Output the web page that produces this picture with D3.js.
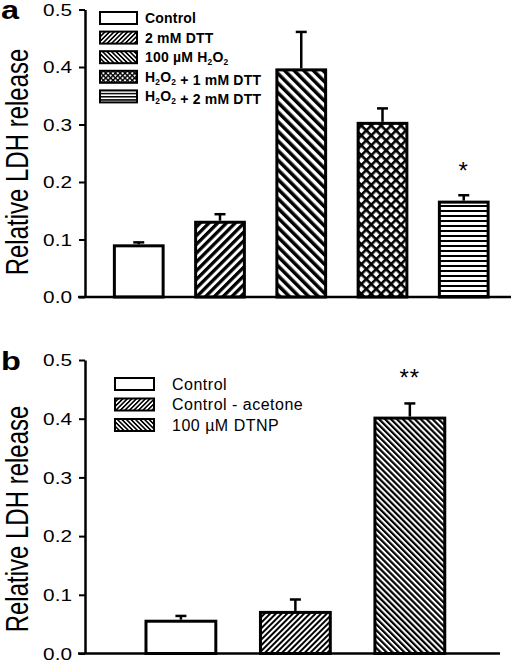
<!DOCTYPE html>
<html><head><meta charset="utf-8">
<script src="https://cdn.jsdelivr.net/npm/d3@7"></script>
<style>body{margin:0;background:#fff}svg{display:block}text{font-family:"Liberation Sans",Arial,sans-serif}</style>
</head><body>
<script>
const catsA = ["Control", "2 mM DTT", "100 µM H2O2", "H2O2 + 1 mM DTT", "H2O2 + 2 mM DTT"];
const valsA = [0.089, 0.130, 0.395, 0.302, 0.165];
const errA  = [0.006, 0.014, 0.066, 0.026, 0.012];
const sigA  = ["", "", "", "", "*"];
const catsB = ["Control", "Control - acetone", "100 µM DTNP"];
const valsB = [0.055, 0.070, 0.401];
const errB  = [0.009, 0.022, 0.025];
const sigB  = ["", "", "**"];
const yTicks = [0, 0.1, 0.2, 0.3, 0.4, 0.5];

const W = 511, H = 662;
const svg = d3.select("body").append("svg").attr("width", W).attr("height", H);
const defs = svg.append("defs");

function stripe(id, p, t, angle) {
  const pt = defs.append("pattern").attr("id", id).attr("patternUnits", "userSpaceOnUse")
    .attr("width", p).attr("height", p).attr("patternTransform", `rotate(${angle})`);
  pt.append("rect").attr("width", p).attr("height", p).attr("fill", "#fff");
  pt.append("rect").attr("x", 0).attr("y", 0).attr("width", t).attr("height", p).attr("fill", "#000");
}
function cross(id, p, t) {
  const pt = defs.append("pattern").attr("id", id).attr("patternUnits", "userSpaceOnUse")
    .attr("width", p).attr("height", p).attr("patternTransform", "rotate(45)");
  pt.append("rect").attr("width", p).attr("height", p).attr("fill", "#fff");
  pt.append("rect").attr("width", t).attr("height", p).attr("fill", "#000");
  pt.append("rect").attr("width", p).attr("height", t).attr("fill", "#000");
}
function hlines(id, p, t) {
  const pt = defs.append("pattern").attr("id", id).attr("patternUnits", "userSpaceOnUse")
    .attr("width", 10).attr("height", p);
  pt.append("rect").attr("width", 10).attr("height", p).attr("fill", "#fff");
  pt.append("rect").attr("width", 10).attr("height", t).attr("fill", "#000");
}
stripe("fwdA", 6.2, 3.3, 45);
stripe("bwdA", 6.8, 3.5, -45);
cross("crossA", 7, 2.6);
hlines("horA", 5, 2);
stripe("fwdB", 4, 2, 45);
stripe("bwdB", 4.2, 2.2, -45);
stripe("fwdL", 3.2, 1.6, 45);
stripe("bwdL", 3.2, 1.6, -45);
cross("crossL", 3.4, 1.4);
hlines("horL", 3.2, 1.5);

const fillsA = ["#fff", "url(#fwdA)", "url(#bwdA)", "url(#crossA)", "url(#horA)"];
const legFillsA = ["#fff", "url(#fwdL)", "url(#bwdL)", "url(#crossL)", "url(#horL)"];
const fillsB = ["#fff", "url(#fwdB)", "url(#bwdB)"];
const legFillsB = ["#fff", "url(#fwdL)", "url(#bwdL)"];

function label(g, txt, size) {
  const parts = txt.split(/(H2O2)/);
  parts.forEach(p => {
    if (p === "H2O2") {
      g.append("tspan").text("H");
      g.append("tspan").text("2").attr("font-size", size * 0.6).attr("dy", 3);
      g.append("tspan").text("O").attr("dy", -3);
      g.append("tspan").text("2").attr("font-size", size * 0.6).attr("dy", 3);
      g.append("tspan").text("").attr("dy", -3);
    } else if (p.length) {
      g.append("tspan").text(p);
    }
  });
}

function panel(cfg) {
  const y = d3.scaleLinear().domain([0, 0.5]).range([cfg.y0, cfg.y1]);
  const x = d3.scaleBand().domain(cfg.cats).range(cfg.xr)
    .paddingInner(cfg.pi).paddingOuter(cfg.po);
  const g = svg.append("g");

  g.selectAll("rect.bar").data(cfg.cats).join("rect").attr("class", "bar")
    .attr("x", d => x(d)).attr("width", x.bandwidth())
    .attr("y", (d, i) => y(cfg.vals[i])).attr("height", (d, i) => y(0) - y(cfg.vals[i]))
    .attr("fill", (d, i) => cfg.fills[i]).attr("stroke", "#000").attr("stroke-width", 3);

  const eb = g.selectAll("g.eb").data(cfg.cats).join("g").attr("class", "eb");
  eb.append("line")
    .attr("x1", d => x(d) + x.bandwidth() / 2).attr("x2", d => x(d) + x.bandwidth() / 2)
    .attr("y1", (d, i) => y(cfg.vals[i]) - 1.5).attr("y2", (d, i) => y(cfg.vals[i] + cfg.errs[i]))
    .attr("stroke", "#000").attr("stroke-width", 2.5);
  eb.append("line")
    .attr("x1", d => x(d) + x.bandwidth() / 2 - 5.5).attr("x2", d => x(d) + x.bandwidth() / 2 + 5.5)
    .attr("y1", (d, i) => y(cfg.vals[i] + cfg.errs[i])).attr("y2", (d, i) => y(cfg.vals[i] + cfg.errs[i]))
    .attr("stroke", "#000").attr("stroke-width", 2.5);

  g.selectAll("text.sig").data(cfg.cats).join("text").attr("class", "sig")
    .attr("x", d => x(d) + x.bandwidth() / 2).attr("y", (d, i) => y(cfg.vals[i] + cfg.errs[i]) + cfg.sigOff)
    .attr("text-anchor", "middle").attr("font-size", 24).attr("letter-spacing", 1)
    .text((d, i) => cfg.sig[i]);

  g.append("line").attr("x1", 78).attr("x2", cfg.axEnd).attr("y1", y(0)).attr("y2", y(0))
    .attr("stroke", "#000").attr("stroke-width", 2.5);

  const ya = g.append("g").attr("transform", "translate(85,0)")
    .call(d3.axisLeft(y).tickValues(yTicks).tickFormat(d3.format(".1f")).tickSize(6).tickSizeOuter(0));
  ya.select(".domain").attr("stroke-width", 2.5);
  ya.selectAll(".tick line").attr("stroke-width", 2);
  ya.selectAll(".tick text").attr("x", null).attr("dy", "0.36em").attr("font-size", 16)
    .attr("font-family", "Liberation Sans, Arial, sans-serif").attr("fill", "#000")
    .attr("transform", "translate(-13,0) scale(1.3,1)");

  g.append("text").attr("transform", `translate(28,${cfg.titleY}) rotate(-90) scale(1,1.32)`)
    .attr("text-anchor", "middle").attr("font-size", 24).text("Relative LDH release");

  g.append("text").attr("transform", `translate(1,${cfg.letterY}) scale(1.3,1)`)
    .attr("font-size", 25).attr("font-weight", "bold").text(cfg.letter);

  const lg = g.append("g");
  cfg.cats.forEach((c, i) => {
    const cy = cfg.legY + i * cfg.legStep;
    lg.append("rect").attr("x", cfg.legX).attr("y", cy - 6).attr("width", cfg.legW).attr("height", 12)
      .attr("fill", cfg.legFills[i]).attr("stroke", "#000").attr("stroke-width", 2);
    const t = lg.append("text").attr("x", cfg.legTX).attr("y", cy + cfg.legFont * 0.36)
      .attr("font-size", cfg.legFont).attr("font-weight", cfg.legWeight)
      .attr("letter-spacing", cfg.legLS);
    label(t, c, cfg.legFont);
  });
}

panel({
  cats: catsA, vals: valsA, errs: errA, sig: sigA, fills: fillsA, legFills: legFillsA,
  y0: 297, y1: 9.5, xr: [90, 512.5], pi: 0.4, po: 0.3, axEnd: 511, sigOff: -16,
  titleY: 162, letter: "a", letterY: 19,
  legX: 100, legW: 37, legY: 18, legStep: 19.6, legTX: 145, legFont: 14, legWeight: "bold", legLS: 0.2
});
panel({
  cats: catsB, vals: valsB, errs: errB, sig: sigB, fills: fillsB, legFills: legFillsB,
  y0: 653.5, y1: 360, xr: [88.75, 502], pi: 0.39, po: 0.5, axEnd: 500, sigOff: -17,
  titleY: 519, letter: "b", letterY: 370,
  legX: 115, legW: 39, legY: 384, legStep: 20.5, legTX: 172, legFont: 16, legWeight: "normal", legLS: 0.5
});
</script>
</body></html>
